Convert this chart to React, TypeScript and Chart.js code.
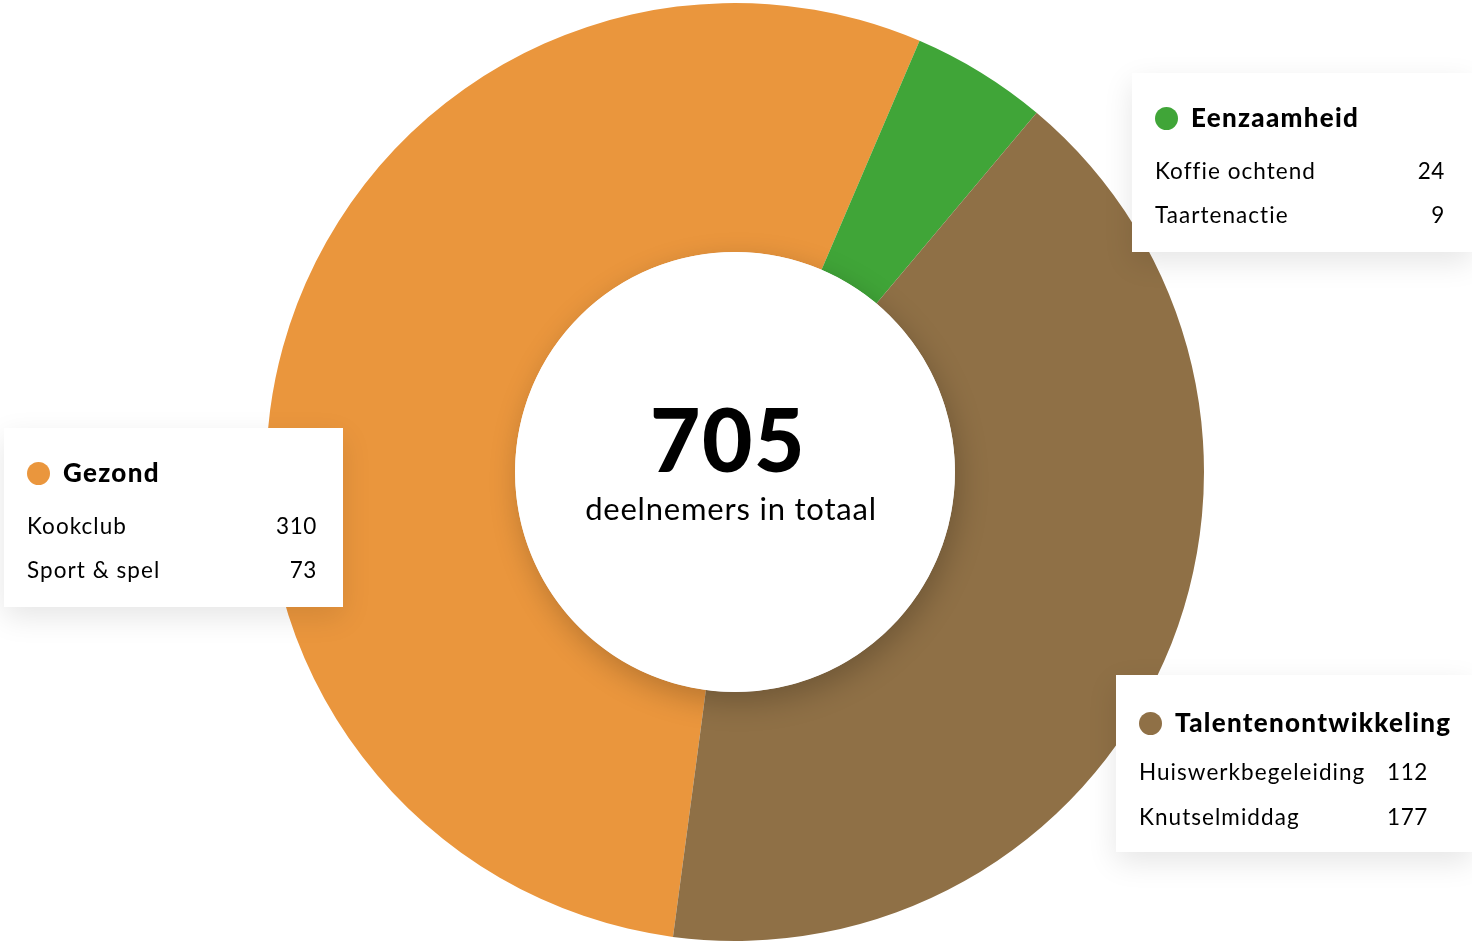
import React, { useEffect, useRef } from "react";
import { Chart, registerables } from "chart.js";

Chart.register(...registerables);

const categories = ["Gezond", "Eenzaamheid", "Talentenontwikkeling"];
const colors = ["#EA963D", "#40A538", "#8F7046"];
const gezondLabels = ["Kookclub", "Sport & spel"];
const gezondValues = [310, 73];
const eenzaamheidLabels = ["Koffie ochtend", "Taartenactie"];
const eenzaamheidValues = [24, 9];
const talentLabels = ["Huiswerkbegeleiding", "Knutselmiddag"];
const talentValues = [112, 177];
const totalLabel = "deelnemers in totaal";

const sum = (a: number[]) => a.reduce((s, v) => s + v, 0);
const categoryValues = [sum(gezondValues), sum(eenzaamheidValues), sum(talentValues)];
const total = sum(categoryValues);

const FONT = "Lato, 'Noto Sans', sans-serif";

type BoxProps = {
  left: number; top: number; width: number; height: number;
  color: string; title: string; labels: string[]; values: number[];
  valueRight: number; dotY: number; titleBase: number; rowBases: number[];
};

function LegendBox(p: BoxProps) {
  const tfs = 26;
  const rfs = 22.5;
  return (
    <div style={{
      position: "absolute", left: p.left, top: p.top, width: p.width, height: p.height,
      background: "#fff", boxShadow: "0 10px 28px rgba(0,0,0,0.10)", fontFamily: FONT, color: "#000",
    }}>
      <div style={{
        position: "absolute", left: 23, top: p.dotY - 11.5, width: 23, height: 23,
        borderRadius: "50%", background: p.color,
      }} />
      <div style={{
        position: "absolute", left: 59, top: p.titleBase - 0.987 * tfs, fontSize: tfs,
        lineHeight: 1.2, fontWeight: 900, whiteSpace: "nowrap", letterSpacing: 1.3,
      }}>{p.title}</div>
      {p.labels.map((l, i) => (
        <React.Fragment key={l}>
          <div style={{
            position: "absolute", left: 23, top: p.rowBases[i] - 0.987 * rfs, fontSize: rfs,
            lineHeight: 1.2, whiteSpace: "nowrap", letterSpacing: 1.05,
          }}>{l}</div>
          <div style={{
            position: "absolute", right: p.width - p.valueRight, top: p.rowBases[i] - 0.987 * rfs,
            fontSize: rfs, lineHeight: 1.2, whiteSpace: "nowrap", textAlign: "right", letterSpacing: 0.6,
          }}>{p.values[i]}</div>
        </React.Fragment>
      ))}
    </div>
  );
}

export default function App() {
  const ref = useRef<HTMLCanvasElement>(null);

  useEffect(() => {
    if (!ref.current) return;
    const holePlugin = {
      id: "hole",
      afterDatasetsDraw(chart: any) {
        const meta = chart.getDatasetMeta(0);
        const arc = meta.data[0];
        if (!arc) return;
        const { x, y, innerRadius } = arc.getProps(["x", "y", "innerRadius"], true);
        const ctx = chart.ctx;
        ctx.save();
        ctx.shadowColor = "rgba(0,0,0,0.22)";
        ctx.shadowBlur = 30;
        ctx.shadowOffsetX = 4;
        ctx.shadowOffsetY = 10;
        ctx.beginPath();
        ctx.arc(x, y, innerRadius, 0, Math.PI * 2);
        ctx.fillStyle = "#fff";
        ctx.fill();
        ctx.restore();
      },
    };
    const chart = new Chart(ref.current, {
      type: "doughnut",
      data: {
        labels: categories,
        datasets: [{
          data: categoryValues,
          backgroundColor: colors,
          borderWidth: 0,
          hoverOffset: 0,
        }],
      },
      options: {
        animation: false,
        responsive: false,
        maintainAspectRatio: false,
        rotation: -172.4,
        cutout: "46.9%",
        layout: { padding: { top: 3, bottom: 2, left: 0, right: 2 } },
        plugins: { legend: { display: false }, tooltip: { enabled: false } },
      },
      plugins: [holePlugin],
    });
    return () => chart.destroy();
  }, []);

  return (
    <div style={{ position: "fixed", left: 0, top: 0, width: 1472, height: 943, background: "#fff", overflow: "hidden" }}>
      <canvas ref={ref} width={1472} height={943} style={{ position: "absolute", left: 0, top: 0, width: 1472, height: 943 }} />
      <div style={{
        position: "absolute", left: 528, width: 400, top: 473 - 0.987 * 87, textAlign: "center",
        fontFamily: FONT, fontWeight: 900, fontSize: 87, lineHeight: 1.2, color: "#000", letterSpacing: 1.5,
      }}>{total}</div>
      <div style={{
        position: "absolute", left: 531, width: 400, top: 521 - 0.987 * 31, textAlign: "center",
        fontFamily: FONT, fontSize: 31, lineHeight: 1.2, color: "#000", letterSpacing: 0.8,
      }}>{totalLabel}</div>
      <LegendBox left={1132} top={73} width={340} height={179} color={colors[1]} title={categories[1]}
        labels={eenzaamheidLabels} values={eenzaamheidValues} valueRight={313}
        dotY={45} titleBase={55} rowBases={[106, 150]} />
      <LegendBox left={4} top={428} width={339} height={179} color={colors[0]} title={categories[0]}
        labels={gezondLabels} values={gezondValues} valueRight={313}
        dotY={45} titleBase={55} rowBases={[106, 150]} />
      <LegendBox left={1116} top={675} width={356} height={177} color={colors[2]} title={categories[2]}
        labels={talentLabels} values={talentValues} valueRight={312}
        dotY={48} titleBase={58} rowBases={[105, 150]} />
    </div>
  );
}
